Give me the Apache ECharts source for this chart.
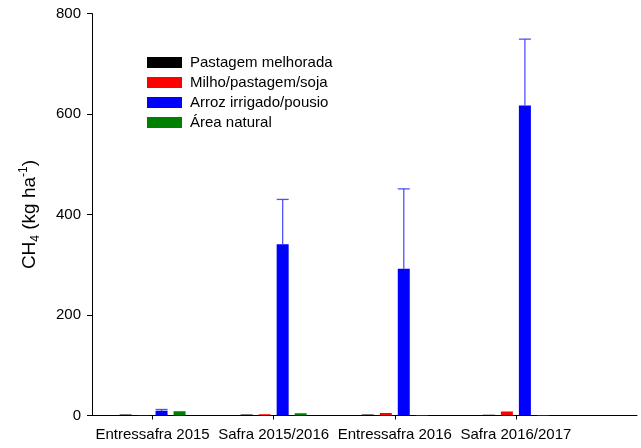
<!DOCTYPE html>
<html>
<head>
<meta charset="utf-8">
<script src="https://cdn.jsdelivr.net/npm/echarts@6/dist/echarts.min.js"></script>
<style>
  html, body { margin: 0; padding: 0; background: #fff; }
  #chart { width: 641px; height: 448px; }
</style>
</head>
<body>
<div id="chart"></div>
<script>
// Seasons on the x axis (placed at 1..4 on a numeric axis)
const categories = ['Entressafra 2015', 'Safra 2015/2016', 'Entressafra 2016', 'Safra 2016/2017'];
const categoryPositions = [1, 2, 3, 4];

// CH4 emissions (kg ha-1) per land use
const seriesNames = ['Pastagem melhorada', 'Milho/pastagem/soja', 'Arroz irrigado/pousio', 'Área natural'];
const pastagem = [2, 2, 2, 1.5];
const milho = [0.5, 2.5, 5, 8];
const arroz = [9.5, 341, 292, 617];
const arrozErro = [2.5, 89, 159, 132];   // upper error bar (added to the mean)
const natural = [8.5, 4.5, 1, 1];

const yTicks = [0, 200, 400, 600, 800];

const colors = ['#000000', '#ff0000', '#0000ff', '#008000'];
const FONT = 'Liberation Sans, Arial, sans-serif';
const BAR_W = 12;
const BAR_SPACE = 6;

function pairs(values) {
  return values.map((v, i) => [categoryPositions[i], v]);
}

const allSeries = [pastagem, milho, arroz, natural];

// horizontal shift of a bar within its group
function barOffset(index) {
  const n = allSeries.length;
  return (index - (n - 1) / 2) * (BAR_W + BAR_SPACE);
}

const barSeries = allSeries.map((vals, i) => ({
  name: seriesNames[i],
  type: 'bar',
  data: pairs(vals),
  barWidth: BAR_W,
  barGap: (BAR_SPACE / BAR_W * 100) + '%',
  itemStyle: { color: colors[i] },
  emphasis: { disabled: true }
}));

// upper error bars for the rice series
const errorSeries = {
  type: 'custom',
  silent: true,
  z: 3,
  data: arroz.map((v, i) => [categoryPositions[i], v, v + arrozErro[i]]),
  renderItem: function (params, api) {
    const dx = barOffset(2);
    const base = api.coord([api.value(0), api.value(1)]);
    const top = api.coord([api.value(0), api.value(2)]);
    const x = base[0] + dx;
    const half = BAR_W / 2;
    const style = { stroke: 'rgba(40,40,255,0.8)', lineWidth: 1.3 };
    return {
      type: 'group',
      children: [
        { type: 'line', shape: { x1: x, y1: base[1], x2: x, y2: top[1] }, style: style },
        { type: 'line', shape: { x1: x - half, y1: top[1], x2: x + half, y2: top[1] }, style: style }
      ]
    };
  }
};

const chart = echarts.init(document.getElementById('chart'));
chart.setOption({
  animation: false,
  backgroundColor: '#ffffff',
  textStyle: { fontFamily: FONT },
  grid: { left: 92, right: 4, top: 13.5, bottom: 32.5, containLabel: false },
  legend: {
    orient: 'vertical',
    left: 142,
    top: 50,
    itemWidth: 35,
    itemHeight: 11,
    itemGap: 5,
    icon: 'rect',
    selectedMode: false,
    data: seriesNames,
    textStyle: { fontFamily: FONT, fontSize: 15, color: '#000', lineHeight: 14, padding: [0, 0, 0, 3] }
  },
  xAxis: {
    type: 'value',
    min: 0.5,
    max: 5,
    splitLine: { show: false },
    axisLine: { show: true, lineStyle: { color: '#000', width: 1 } },
    axisTick: { show: true, length: 4, customValues: categoryPositions, lineStyle: { color: '#000' } },
    axisLabel: {
      customValues: categoryPositions,
      margin: 12,
      color: '#000',
      fontSize: 15,
      fontFamily: FONT,
      formatter: function (v) { return categories[Math.round(v) - 1] || ''; }
    }
  },
  yAxis: {
    type: 'value',
    min: yTicks[0],
    max: yTicks[yTicks.length - 1],
    interval: 200,
    splitLine: { show: false },
    axisLine: { show: true, lineStyle: { color: '#000', width: 1 } },
    axisTick: { show: true, length: 5, lineStyle: { color: '#000' } },
    axisLabel: { margin: 11, color: '#000', fontSize: 15, fontFamily: FONT },
    name: '{a|CH}{sub|4}{a| (kg ha}{sup|-1}{a|)}',
    nameLocation: 'middle',
    nameGap: 50,
    nameRotate: 90,
    nameTextStyle: {
      fontFamily: FONT,
      rich: {
        a: { fontSize: 19, color: '#000', fontFamily: FONT, lineHeight: 24, verticalAlign: 'middle' },
        sub: { fontSize: 12, color: '#000', fontFamily: FONT, lineHeight: 24, verticalAlign: 'bottom' },
        sup: { fontSize: 12, color: '#000', fontFamily: FONT, lineHeight: 24, verticalAlign: 'top' }
      }
    }
  },
  series: barSeries.concat([errorSeries])
});
</script>
</body>
</html>
